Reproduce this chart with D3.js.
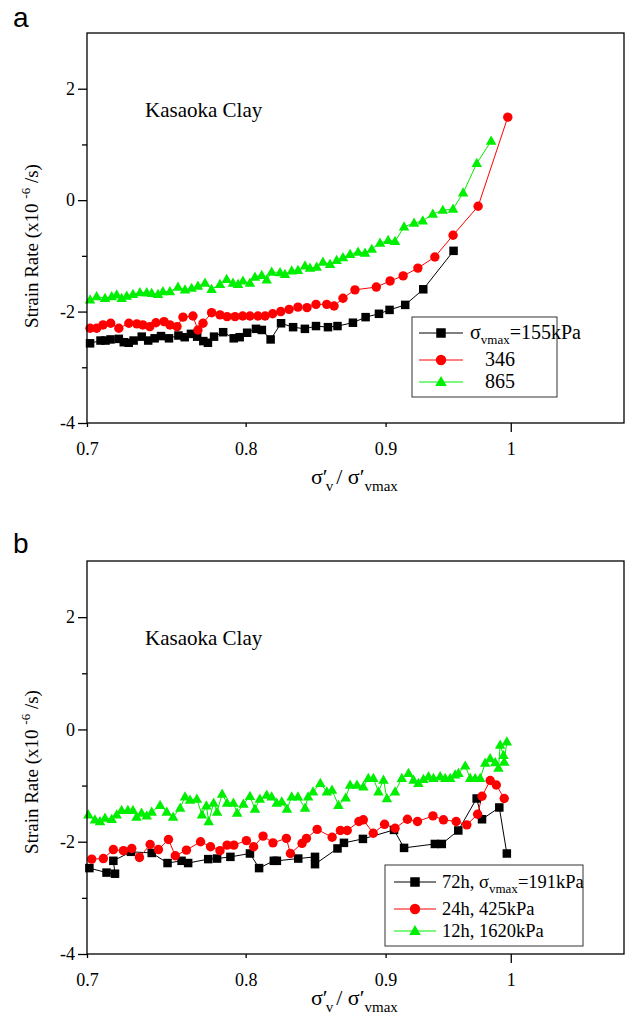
<!DOCTYPE html>
<html>
<head>
<meta charset="utf-8">
<script src="https://cdn.jsdelivr.net/npm/d3@7/dist/d3.min.js"></script>
<style>
  html, body { margin: 0; padding: 0; background: #fff; }
  svg { display: block; }
  .serif { font-family: "Liberation Serif", "Times New Roman", Times, serif; }
</style>
</head>
<body>
<svg id="chart" width="629" height="1021"></svg>
<script>
// ---- Panel a: Kasaoka Clay, different maximum consolidation stresses ----
const aSeries155 = [
  [0.7018,-2.57],[0.7080,-2.52],[0.7110,-2.52],[0.7140,-2.50],[0.7190,-2.49],[0.7220,-2.55],
  [0.7250,-2.56],[0.7280,-2.52],[0.7330,-2.45],[0.7370,-2.52],[0.7410,-2.48],[0.7450,-2.44],
  [0.7500,-2.48],[0.7560,-2.43],[0.7600,-2.46],[0.7640,-2.40],[0.7680,-2.45],[0.7720,-2.53],
  [0.7750,-2.56],[0.7790,-2.45],[0.7850,-2.37],[0.7920,-2.48],[0.7960,-2.46],[0.8010,-2.38],
  [0.8070,-2.31],[0.8110,-2.33],[0.8170,-2.50],[0.8242,-2.21],[0.8326,-2.28],[0.8409,-2.31],
  [0.8488,-2.26],[0.8574,-2.28],[0.8643,-2.26],[0.8756,-2.20],[0.8850,-2.10],[0.8950,-2.04],
  [0.9030,-1.97],[0.9150,-1.88],[0.9290,-1.60],[0.9530,-0.91]
];
const aSeries346 = [
  [0.7018,-2.30],[0.7057,-2.30],[0.7095,-2.24],[0.7141,-2.21],[0.7190,-2.30],[0.7251,-2.21],
  [0.7300,-2.22],[0.7337,-2.24],[0.7380,-2.27],[0.7418,-2.20],[0.7469,-2.18],[0.7506,-2.24],
  [0.7551,-2.27],[0.7589,-2.10],[0.7653,-2.08],[0.7685,-2.33],[0.7718,-2.21],[0.7774,-2.02],
  [0.7829,-2.06],[0.7876,-2.09],[0.7929,-2.09],[0.7980,-2.08],[0.8029,-2.08],[0.8083,-2.08],
  [0.8132,-2.08],[0.8184,-2.04],[0.8240,-2.00],[0.8298,-1.96],[0.8360,-1.92],[0.8424,-1.93],
  [0.8488,-1.87],[0.8565,-1.87],[0.8618,-1.90],[0.8683,-1.76],[0.8771,-1.61],[0.8930,-1.56],
  [0.9034,-1.45],[0.9134,-1.36],[0.9248,-1.22],[0.9381,-1.02],[0.9526,-0.63],[0.9729,-0.11],
  [0.9975,1.49]
];
const aSeries865 = [
  [0.7018,-1.79],[0.7057,-1.73],[0.7107,-1.76],[0.7147,-1.73],[0.7177,-1.70],[0.7207,-1.76],
  [0.7238,-1.72],[0.7276,-1.69],[0.7319,-1.66],[0.7361,-1.66],[0.7392,-1.67],[0.7431,-1.69],
  [0.7462,-1.64],[0.7506,-1.64],[0.7557,-1.56],[0.7602,-1.61],[0.7644,-1.58],[0.7685,-1.54],
  [0.7731,-1.49],[0.7774,-1.60],[0.7829,-1.51],[0.7873,-1.42],[0.7915,-1.49],[0.7949,-1.51],
  [0.7982,-1.45],[0.8029,-1.49],[0.8063,-1.38],[0.8109,-1.35],[0.8143,-1.43],[0.8177,-1.29],
  [0.8235,-1.30],[0.8269,-1.33],[0.8316,-1.27],[0.8360,-1.26],[0.8410,-1.18],[0.8445,-1.22],
  [0.8493,-1.20],[0.8538,-1.11],[0.8589,-1.15],[0.8637,-1.08],[0.8683,-1.03],[0.8735,-0.97],
  [0.8794,-0.93],[0.8846,-0.95],[0.8896,-0.88],[0.8958,-0.77],[0.9019,-0.72],[0.9072,-0.74],
  [0.9141,-0.48],[0.9218,-0.41],[0.9286,-0.37],[0.9365,-0.25],[0.9444,-0.18],[0.9526,-0.16],
  [0.9607,0.13],[0.9718,0.66],[0.9836,1.06]
];

// ---- Panel b: Kasaoka Clay, different load durations ----
const bSeries72h = [
  [0.7014,-2.47],[0.7116,-2.55],[0.7167,-2.57],[0.7157,-2.34],[0.7264,-2.18],[0.7392,-2.20],
  [0.7491,-2.38],[0.7580,-2.34],[0.7622,-2.38],[0.7752,-2.31],[0.7810,-2.30],[0.7898,-2.27],
  [0.8029,-2.21],[0.8091,-2.47],[0.8192,-2.34],[0.8213,-2.34],[0.8362,-2.30],[0.8481,-2.27],
  [0.8481,-2.40],[0.8643,-2.12],[0.8690,-2.02],[0.8830,-1.95],[0.9064,-1.79],[0.9141,-2.11],
  [0.9381,-2.04],[0.9436,-2.04],[0.9568,-1.80],[0.9717,-1.23],[0.9761,-1.60],[0.9904,-1.39],
  [0.9967,-2.21]
];
const bSeries24h = [
  [0.7028,-2.31],[0.7097,-2.30],[0.7157,-2.14],[0.7218,-2.16],[0.7269,-2.12],[0.7316,-2.28],
  [0.7382,-2.05],[0.7434,-2.14],[0.7497,-1.96],[0.7540,-2.25],[0.7611,-2.15],[0.7702,-2.00],
  [0.7767,-2.09],[0.7829,-2.16],[0.7876,-2.06],[0.7921,-2.06],[0.8005,-1.98],[0.8054,-2.09],
  [0.8118,-1.90],[0.8186,-2.02],[0.8279,-1.94],[0.8307,-2.21],[0.8389,-2.03],[0.8420,-1.94],
  [0.8496,-1.78],[0.8604,-1.92],[0.8664,-1.80],[0.8714,-1.80],[0.8800,-1.64],[0.8833,-1.61],
  [0.8907,-1.85],[0.8992,-1.69],[0.9072,-1.76],[0.9167,-1.60],[0.9245,-1.64],[0.9366,-1.54],
  [0.9449,-1.61],[0.9551,-1.64],[0.9637,-1.70],[0.9725,-1.51],[0.9761,-1.19],[0.9828,-0.91],
  [0.9879,-0.99],[0.9945,-1.23]
];
const bSeries12h = [
  [0.7008,-1.52],[0.7047,-1.61],[0.7077,-1.64],[0.7107,-1.58],[0.7147,-1.60],[0.7177,-1.52],
  [0.7207,-1.44],[0.7245,-1.44],[0.7276,-1.44],[0.7298,-1.56],[0.7329,-1.49],[0.7361,-1.54],
  [0.7392,-1.47],[0.7444,-1.35],[0.7486,-1.47],[0.7526,-1.56],[0.7571,-1.40],[0.7602,-1.20],
  [0.7634,-1.26],[0.7678,-1.24],[0.7711,-1.52],[0.7740,-1.36],[0.7755,-1.64],[0.7787,-1.31],
  [0.7810,-1.47],[0.7843,-1.15],[0.7876,-1.31],[0.7918,-1.31],[0.7943,-1.49],[0.7985,-1.33],
  [0.8029,-1.19],[0.8063,-1.42],[0.8096,-1.24],[0.8143,-1.17],[0.8177,-1.20],[0.8212,-1.31],
  [0.8247,-1.29],[0.8283,-1.42],[0.8316,-1.20],[0.8360,-1.20],[0.8410,-1.40],[0.8432,-1.20],
  [0.8467,-1.11],[0.8519,-0.96],[0.8566,-1.11],[0.8603,-1.08],[0.8650,-1.35],[0.8703,-1.22],
  [0.8735,-0.99],[0.8786,-0.99],[0.8833,-1.02],[0.8870,-0.87],[0.8908,-0.87],[0.8946,-1.11],
  [0.8984,-0.90],[0.9010,-1.23],[0.9072,-1.11],[0.9124,-0.87],[0.9175,-0.78],[0.9214,-0.90],
  [0.9252,-0.96],[0.9291,-0.89],[0.9331,-0.84],[0.9370,-0.87],[0.9423,-0.84],[0.9463,-0.87],
  [0.9503,-0.87],[0.9543,-0.81],[0.9569,-0.78],[0.9624,-0.65],[0.9664,-0.87],[0.9705,-0.87],
  [0.9746,-0.87],[0.9787,-0.60],[0.9828,-0.52],[0.9870,-0.59],[0.9897,-0.69],[0.9911,-0.28],
  [0.9939,-0.46],[0.9945,-0.58],[0.9967,-0.22]
];

// ---- Axis ticks and labels ----
const xDomain = [0.7, 1.1];
const yDomain = [-4, 3];
const xTickValues = [0.7, 0.8, 0.9, 1];
const xTickLabels = ["0.7", "0.8", "0.9", "1"];
const xMajorTicks = [1];
const yMajorTicks = [-4, -2, 0, 2];
const yMinorTicks = [-3, -1, 1];
const panelTitle = "Kasaoka Clay";

const BLACK = "#000000", RED = "#ff0000", GREEN = "#00ee00";

const svg = d3.select("#chart");

function marker(g, shape, color, x, y, s) {
  if (shape === "square") {
    g.append("rect").attr("x", x - s / 2).attr("y", y - s / 2)
      .attr("width", s).attr("height", s).attr("fill", color);
  } else if (shape === "circle") {
    g.append("circle").attr("cx", x).attr("cy", y).attr("r", s / 2).attr("fill", color);
  } else {
    const h = s * 0.88;
    g.append("path")
      .attr("d", `M${x},${y - h * 0.6}L${x + s / 2},${y + h * 0.4}L${x - s / 2},${y + h * 0.4}Z`)
      .attr("fill", color);
  }
}

function drawPanel(opt) {
  const g = svg.append("g");
  const x = d3.scaleLog().domain(xDomain).range([opt.left, opt.right]);
  const y = d3.scaleLinear().domain(yDomain).range([opt.bottom, opt.top]);

  // panel letter
  g.append("text").attr("x", 13).attr("y", opt.letterY)
    .attr("font-family", "'Liberation Sans', Arial, sans-serif")
    .attr("font-size", 28).text(opt.letter);

  // series lines then markers
  const line = d3.line().x(d => x(d[0])).y(d => y(d[1]));
  opt.series.forEach(s => {
    g.append("path").datum(s.data).attr("d", line)
      .attr("fill", "none").attr("stroke", s.color).attr("stroke-width", 1);
  });
  opt.series.forEach(s => {
    const mg = g.append("g");
    s.data.forEach(d => marker(mg, s.shape, s.color, x(d[0]), y(d[1]), s.size));
  });

  // frame
  g.append("rect").attr("x", opt.left).attr("y", opt.top)
    .attr("width", opt.right - opt.left).attr("height", opt.bottom - opt.top)
    .attr("fill", "none").attr("stroke", "#000").attr("stroke-width", 1.3);

  // y axis ticks
  const yAxis = d3.axisLeft(y).tickValues(yMajorTicks).tickSize(9).tickPadding(3)
    .tickFormat(d3.format("d"));
  const ya = g.append("g").attr("transform", `translate(${opt.left},0)`).call(yAxis);
  ya.select(".domain").remove();
  ya.selectAll("line").attr("stroke-width", 1.3);
  ya.selectAll("text").attr("class", "serif").attr("font-size", 18)
    .attr("fill", "#000").text(d => d < 0 ? "-" + Math.abs(d) : d);
  const yMinor = d3.axisLeft(y).tickValues(yMinorTicks).tickSize(5).tickFormat("");
  const ym = g.append("g").attr("transform", `translate(${opt.left},0)`).call(yMinor);
  ym.select(".domain").remove();
  ym.selectAll("line").attr("stroke-width", 1.3);

  // x axis ticks (log scale, labelled)
  const xAxis = d3.axisBottom(x).tickValues(xTickValues)
    .tickSize(0).tickPadding(19)
    .tickFormat((d, i) => xTickLabels[i]);
  const xa = g.append("g").attr("transform", `translate(0,${opt.bottom})`).call(xAxis);
  xa.select(".domain").remove();
  xa.selectAll("text").attr("class", "serif").attr("font-size", 18).attr("fill", "#000");
  xa.selectAll(".tick").append("line")
    .attr("y1", 0).attr("y2", d => xMajorTicks.includes(d) ? 9 : 4)
    .attr("stroke", "#000").attr("stroke-width", 1.3);

  // y title
  const yt = g.append("text").attr("class", "serif").attr("font-size", 19)
    .attr("transform", `translate(38,${opt.yTitleY}) rotate(-90)`)
    .attr("text-anchor", "middle");
  yt.append("tspan").text("Strain Rate (x10 ");
  yt.append("tspan").attr("dy", -8).attr("font-size", 13).text("-6");
  yt.append("tspan").attr("dy", 8).text(" /s)");

  // x title
  const xt = g.append("text").attr("class", "serif").attr("font-size", 22)
    .attr("x", 311).attr("y", opt.xTitleY);
  xt.append("tspan").text("σ′");
  xt.append("tspan").attr("font-size", 15).attr("dy", 7).attr("dx", -2).text("v");
  xt.append("tspan").attr("dy", -7).attr("dx", 3).text("/ σ′");
  xt.append("tspan").attr("font-size", 15).attr("dy", 7).text("vmax");

  // inner title
  g.append("text").attr("class", "serif").attr("font-size", 21)
    .attr("x", 145).attr("y", opt.top + 84).text(panelTitle);

  // legend
  const L = opt.legend;
  g.append("rect").attr("x", L.x).attr("y", L.y).attr("width", L.w).attr("height", L.h)
    .attr("fill", "#fff").attr("stroke", "#333").attr("stroke-width", 1);
  opt.series.forEach((s, i) => {
    const cy = L.rows[i];
    g.append("line").attr("x1", L.lineX0).attr("x2", L.lineX1)
      .attr("y1", cy).attr("y2", cy).attr("stroke", s.color).attr("stroke-width", 1);
    marker(g, s.shape, s.color, (L.lineX0 + L.lineX1) / 2, cy, s.size + 1);
    const t = g.append("text").attr("class", "serif").attr("font-size", L.fontSize)
      .attr("x", L.textX + (s.indent || 0)).attr("y", cy + 6);
    s.label.forEach(part => {
      const ts = t.append("tspan").text(part.t);
      if (part.sub) ts.attr("font-size", 13).attr("dy", 5);
      if (part.after) ts.attr("dy", -5);
    });
  });
}

drawPanel({
  letter: "a", letterY: 27,
  left: 87, right: 624, top: 33, bottom: 423,
  yTitleY: 246, xTitleY: 484,
  series: [
    { data: aSeries155, color: BLACK, shape: "square", size: 8.5,
      label: [{ t: "σ" }, { t: "vmax", sub: true }, { t: "=155kPa", after: true }] },
    { data: aSeries346, color: RED, shape: "circle", size: 9.4, indent: 15,
      label: [{ t: "346" }] },
    { data: aSeries865, color: GREEN, shape: "triangle", size: 10.5, indent: 15,
      label: [{ t: "865" }] }
  ],
  legend: { x: 412, y: 317, w: 145, h: 80, rows: [333, 360, 382],
    lineX0: 419, lineX1: 463, textX: 470, fontSize: 20 }
});

drawPanel({
  letter: "b", letterY: 553,
  left: 87, right: 624, top: 561, bottom: 954,
  yTitleY: 772, xTitleY: 1005,
  series: [
    { data: bSeries72h, color: BLACK, shape: "square", size: 8.5,
      label: [{ t: "72h, σ" }, { t: "vmax", sub: true }, { t: "=191kPa", after: true }] },
    { data: bSeries24h, color: RED, shape: "circle", size: 9.4,
      label: [{ t: "24h, 425kPa" }] },
    { data: bSeries12h, color: GREEN, shape: "triangle", size: 10.5,
      label: [{ t: "12h, 1620kPa" }] }
  ],
  legend: { x: 385, y: 865, w: 198, h: 81, rows: [882, 909, 931],
    lineX0: 394, lineX1: 436, textX: 442, fontSize: 18.5 }
});
</script>
</body>
</html>
